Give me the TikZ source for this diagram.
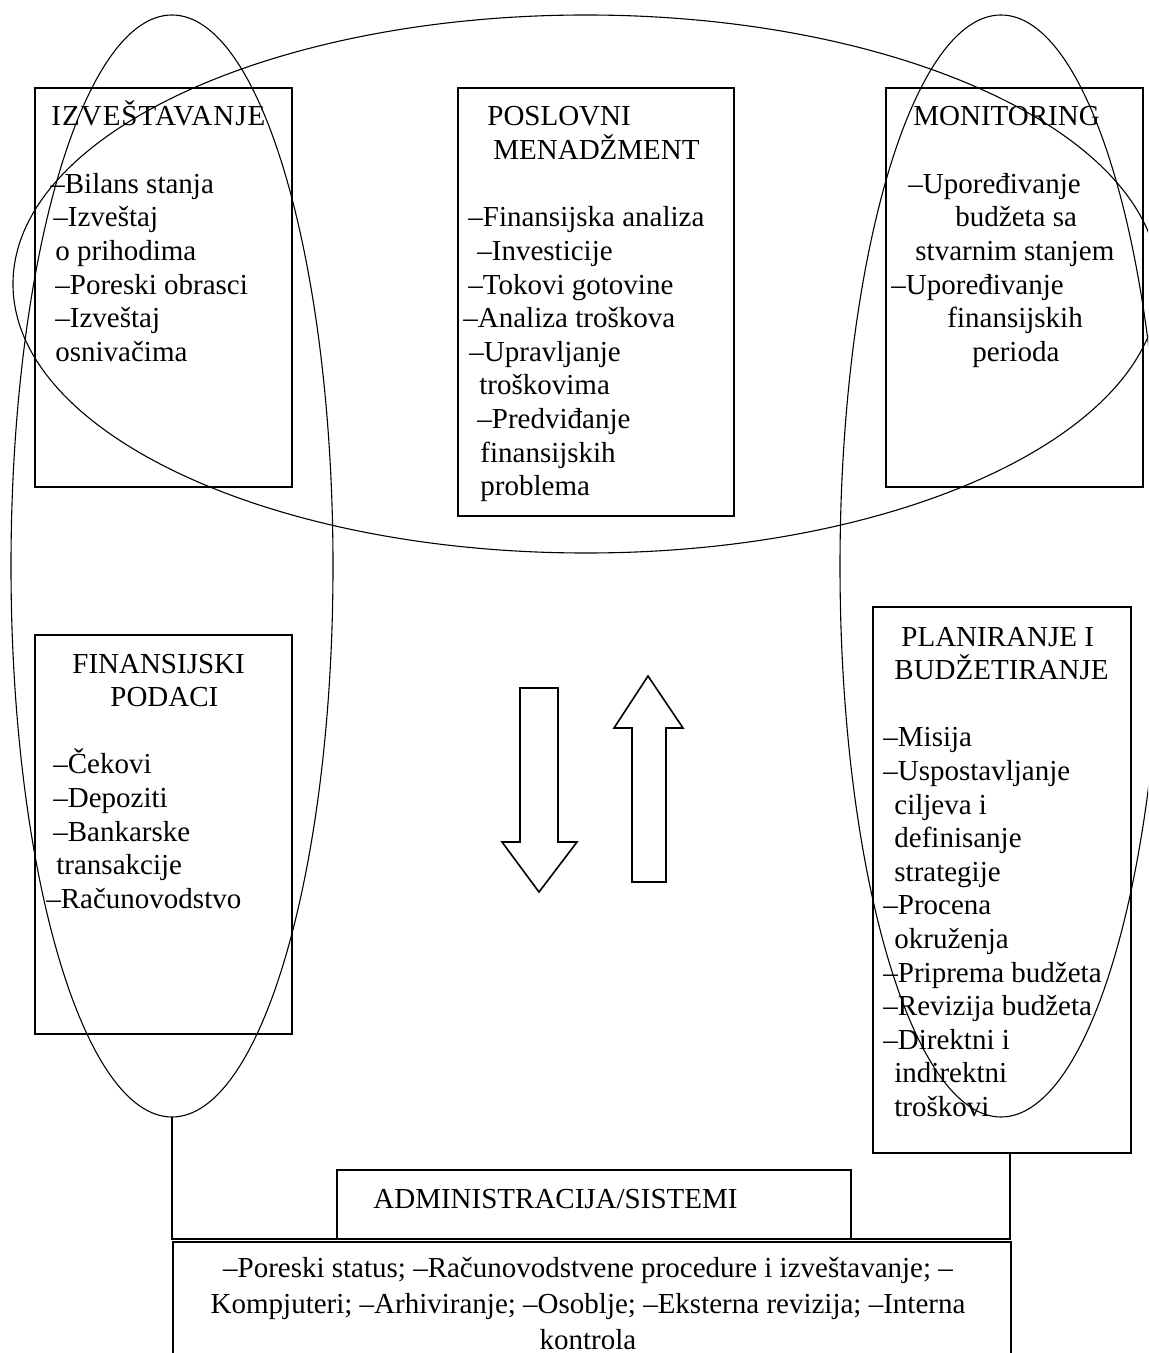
\documentclass[tikz,border=0pt]{standalone}
\usepackage{fontspec}
\setmainfont{Liberation Serif}
\usetikzlibrary{shapes.geometric}
\begin{document}
\begin{tikzpicture}[x=0.5pt,y=-0.5pt,
  box/.style={draw, line width=0.8pt, rectangle, inner sep=0pt, outer sep=0pt, anchor=north west},
  oval/.style={draw, line width=0.55pt, ellipse, inner sep=0pt, outer sep=0pt},
  txt/.style={align=left, anchor=base west, inner sep=0pt, font=\fontsize{14.5pt}{16.8pt}\selectfont},
  conn/.style={line width=0.8pt},
  bigarrow/.style={draw, line width=0.8pt, line join=miter}]
\useasboundingbox (0,0) rectangle (1148,1353);
\clip (0,0) rectangle (1148,1353);
\fill[white] (0,0) rectangle (1148,1353);

% boxes
\node[box, minimum width=128.5pt, minimum height=199.5pt] (izv) at (35,88) {};
\node[box, minimum width=138pt, minimum height=214pt] (pos) at (458,88) {};
\node[box, minimum width=128.5pt, minimum height=199.5pt] (mon) at (886,88) {};
\node[box, minimum width=128.5pt, minimum height=199.5pt] (fin) at (35,635) {};
\node[box, minimum width=129pt, minimum height=273pt] (pla) at (873,607) {};
\node[box, minimum width=257pt, minimum height=34.5pt] (adm) at (337,1170) {};
\node[box, minimum width=419pt, minimum height=70pt] (bot) at (173,1242) {};

% texts (anchored at the baseline of the last line)
\node[txt] (izvt) at (50,361.2) {\hspace*{0.5pt}{\addfontfeature{LetterSpace=3.5}IZVEŠTAVANJE}\\\mbox{}\\
–Bilans stanja\\
\hspace*{1.5pt}–Izveštaj\\
\hspace*{2.5pt}o prihodima\\
\hspace*{2.5pt}–Poreski obrasci\\
\hspace*{2.5pt}–Izveštaj\\
\hspace*{2.5pt}osnivačima};

\node[txt] (post) at (463,495.6) {\hspace*{12pt}POSLOVNI\\
\hspace*{15pt}MENADŽMENT\\\mbox{}\\
\hspace*{2.5pt}–Finansijska analiza\\
\hspace*{7pt}–Investicije\\
\hspace*{2.5pt}–Tokovi gotovine\\
–Analiza troškova\\
\hspace*{3pt}–Upravljanje\\
\hspace*{8pt}troškovima\\
\hspace*{7pt}–Predviđanje\\
\hspace*{8.5pt}finansijskih\\
\hspace*{8.5pt}problema};

\node[txt] (mont) at (891,361.2) {\hspace*{11pt}MONITORING\\\mbox{}\\
\hspace*{8.5pt}–Upoređivanje\\
\hspace*{32pt}budžeta sa\\
\hspace*{12pt}stvarnim stanjem\\
–Upoređivanje\\
\hspace*{28pt}finansijskih\\
\hspace*{40.5pt}perioda};

\node[txt] (fint) at (46,908.2) {\hspace*{13pt}FINANSIJSKI\\
\hspace*{32pt}PODACI\\\mbox{}\\
\hspace*{3.5pt}–Čekovi\\
\hspace*{3.5pt}–Depoziti\\
\hspace*{3.5pt}–Bankarske\\
\hspace*{5pt}transakcije\\
–Računovodstvo};

\node[txt] (plat) at (883,1116.4) {\hspace*{9pt}PLANIRANJE I\\
\hspace*{5.5pt}BUDŽETIRANJE\\\mbox{}\\
–Misija\\
–Uspostavljanje\\
\hspace*{5.5pt}ciljeva i\\
\hspace*{5.5pt}definisanje\\
\hspace*{5.5pt}strategije\\
–Procena\\
\hspace*{5.5pt}okruženja\\
–Priprema budžeta\\
–Revizija budžeta\\
–Direktni i\\
\hspace*{5.5pt}indirektni\\
\hspace*{5.5pt}troškovi};

\node[txt] (admt) at (373,1208) {ADMINISTRACIJA/SISTEMI};

\node[txt, align=center, anchor=base, font=\fontsize{14.5pt}{18pt}\selectfont] (bott) at (588,1349)
{–Poreski status; –Računovodstvene procedure i izveštavanje; –\\
Kompjuteri; –Arhiviranje; –Osoblje; –Eksterna revizija; –Interna\\
kontrola};

% ellipses
\node[oval, minimum width=573pt, minimum height=269pt] (bige) at (586,284) {};
\node[oval, minimum width=161pt, minimum height=551pt] (lell) at (172,566) {};
\node[oval, minimum width=161pt, minimum height=551pt] (rell) at (1001,566) {};

% arrows
\draw[bigarrow] (520,688) -- (558,688) -- (558,842) -- (577,842) -- (539,892) -- (502,842) -- (520,842) -- cycle;
\draw[bigarrow] (632,882) -- (666,882) -- (666,728) -- (683,728) -- (648,676) -- (614,728) -- (632,728) -- cycle;

% connectors
\coordinate (jl) at (172,1239);
\coordinate (jr) at (1010,1239);
\draw[conn] (lell.south) -- (jl) -- (jr) -- (jr |- pla.south);
\end{tikzpicture}
\end{document}
